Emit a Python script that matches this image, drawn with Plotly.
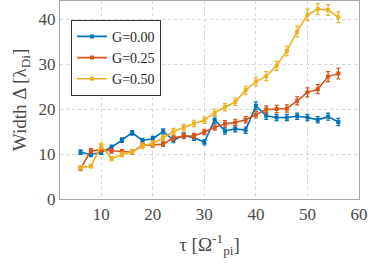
import plotly.graph_objects as go

tau = [6, 8, 10, 12, 14, 16, 18, 20, 22, 24, 26, 28, 30, 32, 34, 36, 38, 40, 42, 44, 46, 48, 50, 52, 54, 56]

g000 = [10.4, 9.9, 10.4, 11.5, 13.1, 14.7, 13.0, 13.4, 15.0, 13.1, 14.1, 13.6, 12.6, 17.6, 15.1, 15.6, 15.3, 20.7, 18.5, 18.1, 18.1, 18.4, 18.1, 17.6, 18.3, 17.1]
g000_err = [0.5, 0.5, 0.5, 0.5, 0.5, 0.5, 0.5, 0.5, 0.6, 0.6, 0.6, 0.6, 0.6, 0.8, 0.7, 0.7, 0.7, 0.9, 0.8, 0.7, 0.7, 0.7, 0.7, 0.7, 0.8, 0.8]

g025 = [6.8, 10.7, 10.9, 10.7, 10.5, 10.4, 12.0, 12.0, 12.2, 13.6, 14.0, 14.0, 14.9, 15.9, 16.7, 17.0, 17.6, 18.7, 19.9, 20.0, 20.1, 21.8, 23.7, 24.4, 27.2, 27.9]
g025_err = [0.4, 0.5, 0.5, 0.5, 0.5, 0.5, 0.5, 0.5, 0.5, 0.6, 0.6, 0.6, 0.6, 0.6, 0.7, 0.7, 0.7, 0.7, 0.8, 0.8, 0.8, 0.9, 1.0, 1.0, 1.1, 1.2]

g050 = [7.0, 7.3, 11.8, 9.0, 9.9, 10.5, 11.8, 12.4, 13.6, 15.0, 15.9, 16.8, 17.5, 19.2, 20.4, 21.6, 24.2, 26.1, 27.3, 29.6, 32.9, 37.2, 40.9, 42.2, 42.0, 40.4]
g050_err = [0.4, 0.4, 0.6, 0.5, 0.5, 0.5, 0.6, 0.6, 0.6, 0.7, 0.7, 0.7, 0.7, 0.8, 0.8, 0.8, 0.9, 0.9, 1.0, 1.0, 1.1, 1.2, 1.3, 1.2, 1.2, 1.2]

labels = ["G=0.00", "G=0.25", "G=0.50"]
colors = ["#0072BD", "#D95319", "#EDB120"]

x_ticks = [10, 20, 30, 40, 50, 60]
y_ticks = [0, 10, 20, 30, 40]

FF = "Liberation Serif"
txt = "#4a4a4a"

fig = go.Figure()
for lab, ys, es, c in zip(labels, [g000, g025, g050], [g000_err, g025_err, g050_err], colors):
    fig.add_trace(go.Scatter(
        x=tau, y=ys, name=lab, mode="lines+markers",
        line=dict(color=c, width=1.6),
        marker=dict(symbol="square", size=4, color=c),
        error_y=dict(type="data", array=es, visible=True, color=c, thickness=1.2, width=2),
    ))

fig.update_layout(
    width=374, height=272,
    margin=dict(l=60, r=15, t=1, b=73),
    paper_bgcolor="white", plot_bgcolor="white",
    font=dict(family=FF, color=txt, size=17),
    legend=dict(x=0.037, y=0.905, xanchor="left", yanchor="top",
                bgcolor="white", bordercolor="#333333", borderwidth=1,
                font=dict(family=FF, size=14, color="#262626")),
    showlegend=True,
)

fig.update_xaxes(
    range=[2, 60], tickvals=x_ticks,
    tickfont=dict(family=FF, size=17, color=txt),
    title=dict(text="τ [Ω<sup>-1</sup><sub>pi</sub>]", font=dict(family=FF, size=19, color=txt), standoff=14),
    showgrid=True, gridcolor="#d4d4d4", gridwidth=1, griddash="dot",
    showline=True, linecolor="#a6a6a6", linewidth=1, mirror=True,
    zeroline=False,
)
fig.update_yaxes(
    range=[0, 44], tickvals=y_ticks,
    tickfont=dict(family=FF, size=17, color=txt),
    title=dict(text="Width Δ [λ<sub>Di</sub>]", font=dict(family=FF, size=19, color=txt), standoff=6),
    showgrid=True, gridcolor="#d4d4d4", gridwidth=1, griddash="dot",
    showline=True, linecolor="#a6a6a6", linewidth=1, mirror=True,
    zeroline=False,
)

fig.write_html("out.html", config={"displayModeBar": False},
               post_script="document.body.style.margin='0';")
